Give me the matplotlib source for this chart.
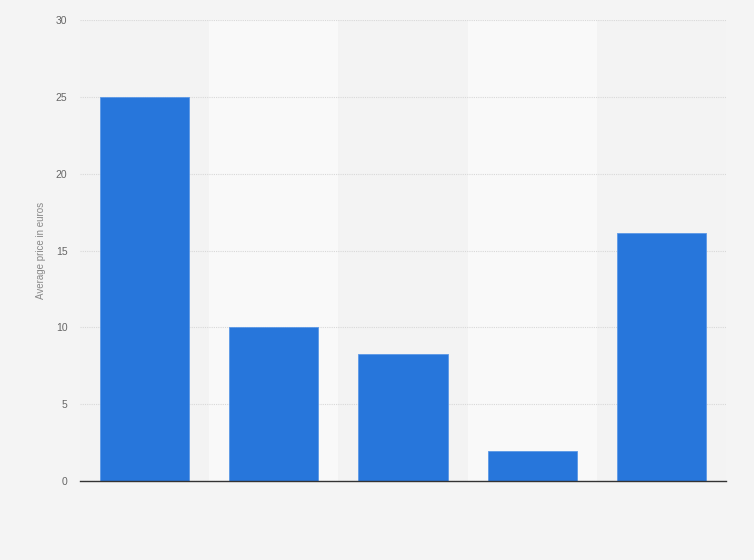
import matplotlib
matplotlib.use("Agg")
import matplotlib.pyplot as plt

plt.rcParams['font.family'] = ['Liberation Sans', 'DejaVu Sans']

categories = ["A", "B", "C", "D", "E"]
values = [25.0, 10.0, 8.25, 1.95, 16.15]
yticks = [0, 5, 10, 15, 20, 25, 30]

fig = plt.figure(figsize=(7.54, 5.6), dpi=100, facecolor="#f4f4f4")
ax = fig.add_axes([0.106, 0.141, 0.857, 0.823])
ax.set_facecolor("#f3f3f3")

x = list(range(len(categories)))
for i in x:
    if i % 2 == 1:
        ax.axvspan(i - 0.5, i + 0.5, color="#f9f9f9", zorder=0, lw=0)

ax.bar(x, values, width=0.69, color="#2776db", edgecolor="#5b98e6", linewidth=0.6, zorder=3)

ax.set_xlim(-0.5, len(categories) - 0.5)
ax.set_ylim(0, 30)
ax.set_yticks(yticks)
ax.set_yticklabels([str(t) for t in yticks])
ax.set_xticks([])
ax.yaxis.grid(True, linestyle=(0, (1, 1)), color="#d8d8d8", linewidth=0.8, zorder=1)
ax.set_axisbelow(True)
for s in ["top", "right", "left"]:
    ax.spines[s].set_visible(False)
ax.spines["bottom"].set_color("#333333")
ax.spines["bottom"].set_linewidth(1.0)
ax.spines["bottom"].set_zorder(4)
ax.tick_params(axis="y", length=0, labelsize=7.5, labelcolor="#666666", pad=9)
ax.set_ylabel("Average price in euros", fontsize=7, color="#888888", labelpad=7)

fig.savefig("out.png", dpi=100, facecolor=fig.get_facecolor())
